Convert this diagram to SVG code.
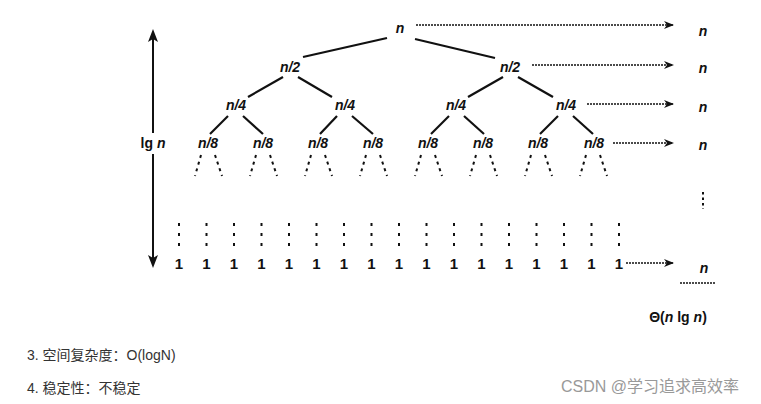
<svg xmlns="http://www.w3.org/2000/svg" width="761" height="404" viewBox="0 0 761 404">
<defs>
<marker id="ah" markerWidth="10" markerHeight="8" refX="9" refY="4" orient="auto" markerUnits="userSpaceOnUse">
<path d="M0,0 L10,4 L0,8 L3,4 Z" fill="#111"/>
</marker>
<style>
.lab{font-family:"Liberation Sans",Arial,sans-serif;font-weight:bold;font-style:italic;font-size:14px;fill:#111;text-anchor:middle}
.one{font-family:"Liberation Sans",Arial,sans-serif;font-weight:bold;font-size:15px;fill:#111;text-anchor:middle}
.edge{stroke:#111;stroke-width:2.2;fill:none}
.dedge{stroke:#111;stroke-width:2;stroke-dasharray:3 4;fill:none}
.arr{stroke:#111;stroke-width:1.6;stroke-dasharray:2 1;fill:none;marker-end:url(#ah)}
.vd{stroke:#111;stroke-width:2;stroke-dasharray:3 7;fill:none}
.cap{font-family:"Liberation Sans","Noto Sans CJK SC",sans-serif;font-size:14px;fill:#333}
</style>
</defs>
<rect width="761" height="404" fill="#fff"/>
<g id="connectors">
<line class="edge" x1="387" y1="38" x2="303" y2="57"/>
<line class="edge" x1="415" y1="39" x2="495" y2="58"/>
<line class="edge" x1="283" y1="77" x2="248" y2="97"/>
<line class="edge" x1="298" y1="77" x2="332" y2="97"/>
<line class="edge" x1="503" y1="77" x2="468" y2="97"/>
<line class="edge" x1="518" y1="77" x2="553" y2="97"/>
<line class="edge" x1="228" y1="116" x2="210" y2="134"/>
<line class="edge" x1="243" y1="116" x2="263" y2="134"/>
<line class="edge" x1="337" y1="116" x2="320" y2="134"/>
<line class="edge" x1="352" y1="116" x2="373" y2="134"/>
<line class="edge" x1="449" y1="116" x2="431" y2="134"/>
<line class="edge" x1="464" y1="116" x2="484" y2="134"/>
<line class="edge" x1="558" y1="116" x2="540" y2="134"/>
<line class="edge" x1="573" y1="116" x2="593" y2="134"/>
<g id="dots-down">
<line class="dedge" x1="201" y1="155" x2="195" y2="176"/><line class="dedge" x1="215" y1="155" x2="222" y2="176"/>
<line class="dedge" x1="256" y1="155" x2="250" y2="176"/><line class="dedge" x1="270" y1="155" x2="277" y2="176"/>
<line class="dedge" x1="311" y1="155" x2="305" y2="176"/><line class="dedge" x1="325" y1="155" x2="332" y2="176"/>
<line class="dedge" x1="366" y1="155" x2="360" y2="176"/><line class="dedge" x1="380" y1="155" x2="387" y2="176"/>
<line class="dedge" x1="421" y1="155" x2="415" y2="176"/><line class="dedge" x1="435" y1="155" x2="442" y2="176"/>
<line class="dedge" x1="476" y1="155" x2="470" y2="176"/><line class="dedge" x1="490" y1="155" x2="497" y2="176"/>
<line class="dedge" x1="531" y1="155" x2="525" y2="176"/><line class="dedge" x1="545" y1="155" x2="552" y2="176"/>
<line class="dedge" x1="586" y1="155" x2="580" y2="176"/><line class="dedge" x1="600" y1="155" x2="607" y2="176"/>
</g>
<g id="vdots">
<line class="vd" x1="179" y1="223" x2="179" y2="250"/><line class="vd" x1="206.5" y1="223" x2="206.5" y2="250"/>
<line class="vd" x1="234" y1="223" x2="234" y2="250"/><line class="vd" x1="261.5" y1="223" x2="261.5" y2="250"/>
<line class="vd" x1="289" y1="223" x2="289" y2="250"/><line class="vd" x1="316.5" y1="223" x2="316.5" y2="250"/>
<line class="vd" x1="344" y1="223" x2="344" y2="250"/><line class="vd" x1="371.5" y1="223" x2="371.5" y2="250"/>
<line class="vd" x1="399" y1="223" x2="399" y2="250"/><line class="vd" x1="426.5" y1="223" x2="426.5" y2="250"/>
<line class="vd" x1="454" y1="223" x2="454" y2="250"/><line class="vd" x1="481.5" y1="223" x2="481.5" y2="250"/>
<line class="vd" x1="509" y1="223" x2="509" y2="250"/><line class="vd" x1="536.5" y1="223" x2="536.5" y2="250"/>
<line class="vd" x1="564" y1="223" x2="564" y2="250"/><line class="vd" x1="591.5" y1="223" x2="591.5" y2="250"/>
<line class="vd" x1="619" y1="223" x2="619" y2="250"/>
<line stroke="#111" stroke-width="2" stroke-dasharray="2.5 3" x1="703" y1="192" x2="703" y2="209"/>
</g>
<line class="arr" x1="416" y1="25" x2="673" y2="25"/>
<line class="arr" x1="532" y1="65" x2="673" y2="65"/>
<line class="arr" x1="587" y1="104" x2="673" y2="104"/>
<line class="arr" x1="613" y1="143" x2="673" y2="143"/>
<line class="arr" x1="626" y1="263" x2="673" y2="263"/>
<g id="height-arrow">
<line stroke="#111" stroke-width="2" x1="153" y1="38" x2="153" y2="133"/>
<line stroke="#111" stroke-width="2" x1="153" y1="154" x2="153" y2="260"/>
<path d="M153,29 L158,42 L153,39 L148,42 Z" fill="#111"/>
<path d="M153,268 L158,255 L153,258 L148,255 Z" fill="#111"/>
</g>
<line stroke="#111" stroke-width="1.6" stroke-dasharray="2 1" x1="680" y1="283" x2="715" y2="283"/>
</g>
<g id="n-root"><text class="lab" x="400" y="33">n</text></g>
<g id="n2-l"><text class="lab" x="290" y="72">n/2</text></g>
<g id="n2-r"><text class="lab" x="510" y="72">n/2</text></g>
<g id="n4-1"><text class="lab" x="236" y="110">n/4</text></g>
<g id="n4-2"><text class="lab" x="345" y="110">n/4</text></g>
<g id="n4-3"><text class="lab" x="456" y="110">n/4</text></g>
<g id="n4-4"><text class="lab" x="566" y="110">n/4</text></g>
<g id="n8">
<text class="lab" x="208" y="148">n/8</text><text class="lab" x="263" y="148">n/8</text>
<text class="lab" x="318" y="148">n/8</text><text class="lab" x="373" y="148">n/8</text>
<text class="lab" x="428" y="148">n/8</text><text class="lab" x="483" y="148">n/8</text>
<text class="lab" x="538" y="148">n/8</text><text class="lab" x="594" y="148">n/8</text>
</g>
<g id="leaves">
<text class="one" x="179" y="269">1</text><text class="one" x="206.5" y="269">1</text>
<text class="one" x="234" y="269">1</text><text class="one" x="261.5" y="269">1</text>
<text class="one" x="289" y="269">1</text><text class="one" x="316.5" y="269">1</text>
<text class="one" x="344" y="269">1</text><text class="one" x="371.5" y="269">1</text>
<text class="one" x="399" y="269">1</text><text class="one" x="426.5" y="269">1</text>
<text class="one" x="454" y="269">1</text><text class="one" x="481.5" y="269">1</text>
<text class="one" x="509" y="269">1</text><text class="one" x="536.5" y="269">1</text>
<text class="one" x="564" y="269">1</text><text class="one" x="591.5" y="269">1</text>
<text class="one" x="619" y="269">1</text>
</g>
<g id="sums">
<text class="lab" x="703" y="36">n</text>
<text class="lab" x="703" y="73">n</text>
<text class="lab" x="703" y="112">n</text>
<text class="lab" x="703" y="150">n</text>
<text class="lab" x="704" y="273">n</text>
</g>
<g id="total"><text x="678" y="322" font-family="Liberation Sans,Arial,sans-serif" font-weight="bold" font-size="14" fill="#111" text-anchor="middle">Θ(<tspan font-style="italic">n</tspan> lg <tspan font-style="italic">n</tspan>)</text></g>
<g id="lgn"><text x="153" y="148" font-family="Liberation Sans,Arial,sans-serif" font-weight="bold" font-size="14" fill="#111" text-anchor="middle">lg <tspan font-style="italic">n</tspan></text></g>
<text class="cap" x="27" y="360">3. 空间复杂度：O(logN)</text>
<text class="cap" x="27" y="393">4. 稳定性：不稳定</text>
<text x="739" y="392" font-family="Liberation Sans,'Noto Sans CJK SC',sans-serif" font-size="16" fill="#999" text-anchor="end">CSDN @学习追求高效率</text>
</svg>
